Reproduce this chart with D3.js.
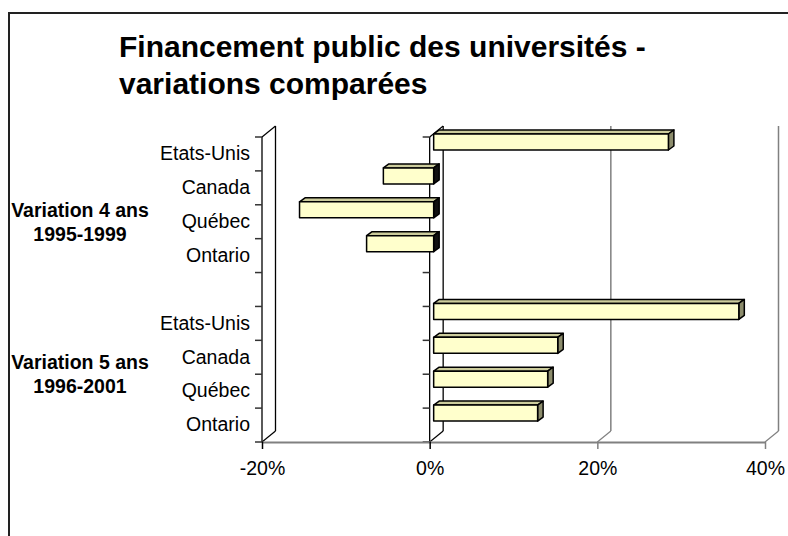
<!DOCTYPE html>
<html>
<head>
<meta charset="utf-8">
<script src="https://cdn.jsdelivr.net/npm/d3@7"></script>
<style>
  body { margin: 0; background: #fff; }
  text { font-family: "Liberation Sans", Arial, sans-serif; }
</style>
</head>
<body>
<svg id="chart"></svg>
<script>
// data
const categories = ["Etats-Unis", "Canada", "Québec", "Ontario", "", "Etats-Unis", "Canada", "Québec", "Ontario"];
const values = [28, -6, -16, -8, null, 36.4, 14.8, 13.6, 12.4];
const groupLabels = [["Variation 4 ans", "1995-1999"], ["Variation 5 ans", "1996-2001"]];
const groupSpans = [[0, 4], [5, 8]];
const xticks = [-20, 0, 20, 40];
const titleLines = ["Financement public des universités -", "variations comparées"];

class BarChart3D {
    constructor (config, data) {
        this.config = {
            parent: config.parent,
            width: config.width || 788,
            height: config.height || 536,
            plot: config.plot || {left: 262, right: 765, top: 137, bottom: 442},
            depth: config.depth || {dx: 13.5, dy: -11},
        };
        this.data = data;
        this.init();
    }

    init() {
        let self = this;
        const p = self.config.plot;

        self.svg = d3.select(self.config.parent)
            .attr('width', self.config.width)
            .attr('height', self.config.height);

        // outer frame (right and bottom edges fall outside the picture)
        self.svg.append('rect')
            .attr('x', 9).attr('y', 13)
            .attr('width', 820).attr('height', 560)
            .attr('fill', 'none')
            .attr('stroke', '#222')
            .attr('stroke-width', 2);

        self.svg.append('g').selectAll('text')
            .data(titleLines)
            .join('text')
            .attr('x', 119)
            .attr('y', (d, i) => 57 + i * 37)
            .attr('font-size', '30px')
            .attr('font-weight', 'bold')
            .text(d => d);

        self.xscale = d3.scaleLinear()
            .domain([-20, 40])
            .range([p.left, p.right]);

        self.yscale = d3.scaleBand()
            .domain(d3.range(categories.length))
            .range([p.top, p.bottom]);

        self.chart = self.svg.append('g');
    }

    update() {
        let self = this;
        self.render();
    }

    render() {
        let self = this;
        const p = self.config.plot;
        const dx = self.config.depth.dx, dy = self.config.depth.dy;
        const x = self.xscale, y = self.yscale;

        // back wall gridlines + floor diagonals
        const walls = self.chart.append('g').attr('fill', 'none');
        xticks.forEach(t => {
            const dark = t <= 0;
            const col = dark ? '#000' : '#808080';
            walls.append('line')
                .attr('x1', x(t) + dx).attr('x2', x(t) + dx)
                .attr('y1', p.top + dy).attr('y2', p.bottom + dy)
                .attr('stroke', col).attr('stroke-width', dark ? 1.3 : 1.5);
            walls.append('line')
                .attr('x1', x(t)).attr('x2', x(t) + dx)
                .attr('y1', p.bottom).attr('y2', p.bottom + dy)
                .attr('stroke', col).attr('stroke-width', 1.2);
        });

        // left wall and zero plane front edges
        [-20, 0].forEach(t => {
            walls.append('line')
                .attr('x1', x(t)).attr('x2', x(t))
                .attr('y1', p.top).attr('y2', p.bottom)
                .attr('stroke', '#000').attr('stroke-width', 1.3);
            walls.append('line')
                .attr('x1', x(t)).attr('x2', x(t) + dx)
                .attr('y1', p.top).attr('y2', p.top + dy)
                .attr('stroke', '#000').attr('stroke-width', 1.2);
        });

        // category ticks at band boundaries, on both vertical axes
        const bounds = d3.range(categories.length).map(i => y(i)).concat([p.bottom]);
        [-20, 0].forEach(t => {
            self.chart.append('g').selectAll('line')
                .data(bounds)
                .join('line')
                .attr('x1', x(t) - 7).attr('x2', x(t))
                .attr('y1', d => d).attr('y2', d => d)
                .attr('stroke', '#333').attr('stroke-width', 1.5);
        });

        // value axis
        self.xaxis = d3.axisBottom(x)
            .tickValues(xticks)
            .tickSize(7)
            .tickSizeOuter(0)
            .tickPadding(12)
            .tickFormat(d => d + '%');

        const xg = self.chart.append('g')
            .attr('transform', `translate(0, ${p.bottom})`)
            .call(self.xaxis);
        xg.select('.domain').attr('stroke', '#808080').attr('stroke-width', 2);
        xg.selectAll('.tick line')
            .attr('stroke', d => d <= 0 ? '#000' : '#808080')
            .attr('stroke-width', 1.5);
        xg.selectAll('.tick text')
            .attr('font-family', '"Liberation Sans", Arial, sans-serif')
            .attr('font-size', '19.5px')
            .attr('fill', '#000');

        // category labels
        self.yaxis = d3.axisLeft(y)
            .tickSize(0)
            .tickPadding(12)
            .tickFormat(i => categories[i]);
        const yg = self.chart.append('g')
            .attr('transform', `translate(${p.left}, 0)`)
            .call(self.yaxis);
        yg.select('.domain').remove();
        yg.selectAll('.tick text')
            .attr('font-family', '"Liberation Sans", Arial, sans-serif')
            .attr('font-size', '19.5px')
            .attr('fill', '#000');

        // group labels
        groupLabels.forEach((lines, g) => {
            const mid = (y(groupSpans[g][0]) + y(groupSpans[g][1]) + y.bandwidth()) / 2;
            self.chart.append('g').selectAll('text')
                .data(lines)
                .join('text')
                .attr('x', 80)
                .attr('y', (d, i) => mid - 5 + i * 24)
                .attr('text-anchor', 'middle')
                .attr('font-size', '19.5px')
                .attr('font-weight', 'bold')
                .text(d => d);
        });

        // 3D bars
        const bar = {ox: 4, oy: -3, dx: 5.5, dy: -4, h: 16};
        const bars = self.data.filter(d => d.value !== null);
        const geo = d => {
            const x0 = x(Math.min(0, d.value)) + bar.ox;
            const x1 = x(Math.max(0, d.value)) + bar.ox;
            const yt = y(d.index) + bar.oy;
            return {x0, x1, yt};
        };

        const bg = self.chart.append('g')
            .attr('stroke', '#000')
            .attr('stroke-width', 1.5)
            .attr('stroke-linejoin', 'round');

        bg.selectAll('.top')
            .data(bars)
            .join('polygon')
            .attr('class', 'top')
            .attr('fill', '#CCCC9C')
            .attr('points', d => {
                const g = geo(d);
                return [[g.x0, g.yt], [g.x1, g.yt], [g.x1 + bar.dx, g.yt + bar.dy], [g.x0 + bar.dx, g.yt + bar.dy]].join(' ');
            });

        bg.selectAll('.side')
            .data(bars)
            .join('polygon')
            .attr('class', 'side')
            .attr('fill', d => d.value < 0 ? '#111' : '#8C8C6C')
            .attr('points', d => {
                const g = geo(d);
                return [[g.x1, g.yt], [g.x1 + bar.dx, g.yt + bar.dy], [g.x1 + bar.dx, g.yt + bar.h + bar.dy], [g.x1, g.yt + bar.h]].join(' ');
            });

        bg.selectAll('.front')
            .data(bars)
            .join('rect')
            .attr('class', 'front')
            .attr('fill', '#FFFFCC')
            .attr('x', d => geo(d).x0)
            .attr('y', d => geo(d).yt)
            .attr('width', d => geo(d).x1 - geo(d).x0)
            .attr('height', bar.h);
    }
}

const data = values.map((v, i) => ({index: i, category: categories[i], value: v}));
const chart = new BarChart3D({parent: '#chart'}, data);
chart.update();
</script>
</body>
</html>
